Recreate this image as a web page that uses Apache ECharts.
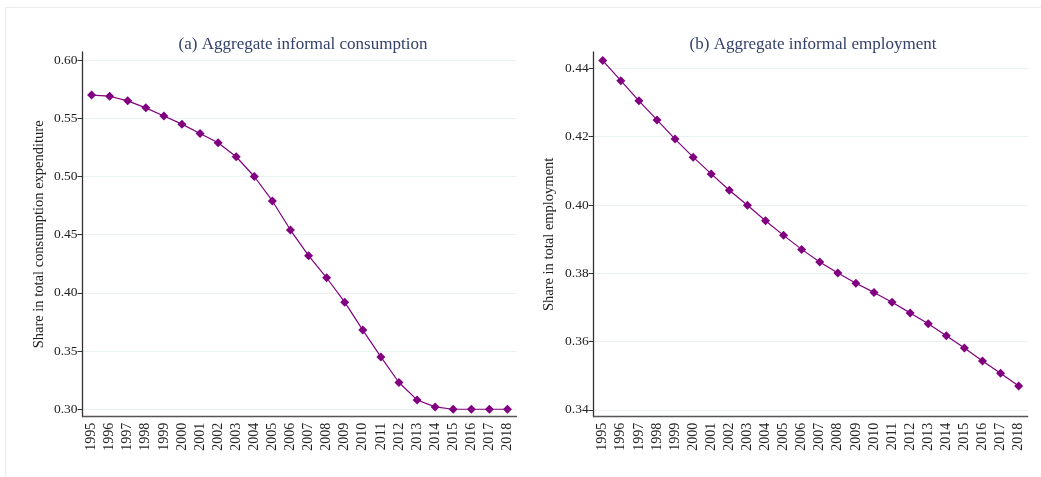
<!DOCTYPE html>
<html>
<head>
<meta charset="utf-8">
<style>
  html, body { margin: 0; padding: 0; background: #ffffff; }
  #frame { position: absolute; left: 5px; top: 7px; width: 1036px; height: 470px;
           border-top: 1px solid #e9eef0; border-left: 1px solid #e9eef0; }
  #chart { position: absolute; left: 0; top: 0; width: 1041px; height: 477px; }
</style>
<script src="https://cdn.jsdelivr.net/npm/echarts@6/dist/echarts.min.js"></script>
</head>
<body>
<div id="frame"></div>
<div id="chart"></div>
<script>
// Years on the horizontal axis of both panels
const years = ['1995','1996','1997','1998','1999','2000','2001','2002','2003','2004','2005','2006',
               '2007','2008','2009','2010','2011','2012','2013','2014','2015','2016','2017','2018'];

// (a) informal share of total consumption expenditure
const consumptionShare = [0.570, 0.569, 0.565, 0.559, 0.552, 0.545, 0.537, 0.529, 0.517, 0.500, 0.479, 0.454,
                          0.432, 0.413, 0.392, 0.368, 0.345, 0.323, 0.308, 0.302, 0.300, 0.300, 0.300, 0.300];

// (b) informal share of total employment
const employmentShare = [0.4423, 0.4364, 0.4305, 0.4249, 0.4193, 0.4140, 0.4091, 0.4043, 0.3999, 0.3954, 0.3911, 0.3870,
                         0.3833, 0.3801, 0.3771, 0.3744, 0.3715, 0.3684, 0.3652, 0.3617, 0.3581, 0.3543, 0.3507, 0.3470];

// Tick values for each panel's vertical axis
const consumptionTicks = [0.30, 0.35, 0.40, 0.45, 0.50, 0.55, 0.60];
const employmentTicks = [0.34, 0.36, 0.38, 0.40, 0.42, 0.44];

const titles = ['(a) Aggregate informal consumption', '(b) Aggregate informal employment'];
const yNames = ['Share in total consumption expenditure', 'Share in total employment'];

const serif = '"Liberation Serif", "DejaVu Serif", serif';
const purple = '#800080';
const textColor = '#222222';

function xAxisFor(gridIndex) {
  return {
    type: 'category', gridIndex: gridIndex, data: years, boundaryGap: true,
    axisLine: { lineStyle: { color: '#555555', width: 1.3 } },
    axisTick: { alignWithLabel: true, length: 5, lineStyle: { color: '#333333' } },
    axisLabel: { rotate: 90, interval: 0, margin: 6, fontFamily: serif, fontSize: 14, color: textColor },
    splitLine: { show: false }
  };
}

function yAxisFor(gridIndex, min, max, ticks, name, nameGap) {
  return {
    type: 'value', gridIndex: gridIndex, min: min, max: max,
    name: name, nameLocation: 'middle', nameGap: nameGap, nameRotate: 90,
    nameTextStyle: { fontFamily: serif, fontSize: 14.5, color: textColor },
    axisLine: { show: true, lineStyle: { color: '#333333', width: 1.3 } },
    axisTick: { show: true, length: 5, customValues: ticks, lineStyle: { color: '#333333' } },
    axisLabel: { customValues: ticks, margin: 5, fontFamily: serif, fontSize: 13.5, color: textColor,
                 formatter: v => v.toFixed(2) },
    splitLine: { show: true, customValues: ticks, lineStyle: { color: '#eaf1f2', width: 1 } }
  };
}

function seriesFor(index, data) {
  return {
    type: 'line', xAxisIndex: index, yAxisIndex: index, data: data,
    symbol: 'diamond', symbolSize: 9, showSymbol: true,
    lineStyle: { color: purple, width: 1.2 },
    itemStyle: { color: purple },
    animation: false
  };
}

const chart = echarts.init(document.getElementById('chart'), null, { renderer: 'canvas' });
chart.setOption({
  backgroundColor: 'transparent',
  animation: false,
  title: [
    { text: titles[0], left: 298, top: 31, textAlign: 'center',
      textStyle: { fontFamily: serif, fontSize: 17, fontWeight: 'normal', color: '#34416a' } },
    { text: titles[1], left: 808, top: 31, textAlign: 'center',
      textStyle: { fontFamily: serif, fontSize: 17, fontWeight: 'normal', color: '#34416a' } }
  ],
  grid: [
    { left: 82.5, top: 52, width: 434, height: 364.7, containLabel: false },
    { left: 593.7, top: 52, width: 434, height: 364.7, containLabel: false }
  ],
  xAxis: [xAxisFor(0), xAxisFor(1)],
  yAxis: [
    yAxisFor(0, 0.2936, 0.607, consumptionTicks, yNames[0], 36),
    yAxisFor(1, 0.3380, 0.4448, employmentTicks, yNames[1], 37)
  ],
  series: [seriesFor(0, consumptionShare), seriesFor(1, employmentShare)]
});
</script>
</body>
</html>
